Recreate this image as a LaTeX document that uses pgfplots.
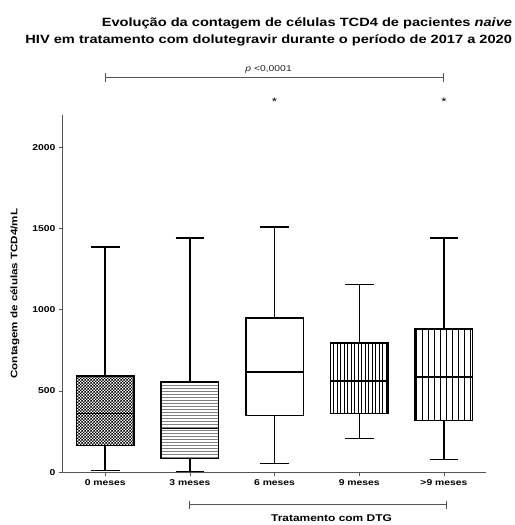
\documentclass[border=0pt]{standalone}
\usepackage{fontspec}
\setmainfont[FakeStretch=1.22]{Liberation Sans}
\usepackage{pgfplots}
\pgfplotsset{compat=1.18}
\usepgfplotslibrary{statistics}
\usetikzlibrary{patterns}
\pgfdeclarepatternformonly{mychecker}{\pgfqpoint{0pt}{0pt}}{\pgfqpoint{3pt}{3pt}}{\pgfqpoint{3pt}{3pt}}{%
  \pgfpathrectangle{\pgfpointorigin}{\pgfqpoint{1.5pt}{1.5pt}}%
  \pgfpathrectangle{\pgfqpoint{1.5pt}{1.5pt}}{\pgfqpoint{1.5pt}{1.5pt}}%
  \pgfusepath{fill}}
\pgfdeclarepatternformonly{myhlines}{\pgfqpoint{-1pt}{-1pt}}{\pgfqpoint{4pt}{4pt}}{\pgfqpoint{3pt}{3pt}}{%
  \pgfsetlinewidth{0.9pt}%
  \pgfpathmoveto{\pgfqpoint{-1pt}{1.5pt}}\pgfpathlineto{\pgfqpoint{4pt}{1.5pt}}\pgfusepath{stroke}}
\pgfdeclarepatternformonly{myvlinesdense}{\pgfqpoint{-1pt}{-1pt}}{\pgfqpoint{4.5pt}{4.5pt}}{\pgfqpoint{3.5pt}{3.5pt}}{%
  \pgfsetlinewidth{0.8pt}%
  \pgfpathmoveto{\pgfqpoint{1.75pt}{-1pt}}\pgfpathlineto{\pgfqpoint{1.75pt}{4.5pt}}\pgfusepath{stroke}}
\pgfdeclarepatternformonly{myvlinessparse}{\pgfqpoint{-1pt}{-1pt}}{\pgfqpoint{7pt}{7pt}}{\pgfqpoint{6pt}{6pt}}{%
  \pgfsetlinewidth{1.2pt}%
  \pgfpathmoveto{\pgfqpoint{3pt}{-1pt}}\pgfpathlineto{\pgfqpoint{3pt}{7pt}}\pgfusepath{stroke}}
\definecolor{axgray}{HTML}{555555}
\begin{document}
\begin{tikzpicture}
\begin{axis}[
  scale only axis, width=424pt, height=358pt,
  xmin=-0.5, xmax=4.5, ymin=0, ymax=2200,
  axis x line*=bottom, axis y line*=left,
  xtick={0,1,2,3,4}, xticklabels={0 meses,3 meses,6 meses,9 meses,>9 meses},
  ytick={0,500,1000,1500,2000},
  tick align=outside, major tick length=4pt,
  tick style={axgray, line width=0.8pt},
  axis line style={axgray, line width=1pt},
  tick label style={font=\bfseries\fontsize{8.5}{10}\selectfont},
  /pgf/number format/assume math mode=true,
  /pgf/number format/1000 sep={},
  clip=false,
  boxplot/draw direction=y,
]
\addplot[draw=black, line width=1.5pt, boxplot prepared={draw position=0, box extend=0.68, whisker extend=0.34, lower whisker=10, lower quartile=165, median=361, upper quartile=593, upper whisker=1385},
  boxplot/every box/.style={pattern=mychecker, pattern color=black}] coordinates {};
\addplot[draw=black, line width=1.5pt, boxplot prepared={draw position=1, box extend=0.68, whisker extend=0.34, lower whisker=6, lower quartile=86, median=269, upper quartile=557, upper whisker=1443},
  boxplot/every box/.style={pattern=myhlines, pattern color=gray}] coordinates {};
\addplot[draw=black, line width=1.5pt, boxplot prepared={draw position=2, box extend=0.68, whisker extend=0.34, lower whisker=55, lower quartile=349, median=618, upper quartile=948, upper whisker=1511}] coordinates {};
\addplot[draw=black, line width=1.5pt, boxplot prepared={draw position=3, box extend=0.68, whisker extend=0.34, lower whisker=208, lower quartile=361, median=563, upper quartile=795, upper whisker=1156},
  boxplot/every box/.style={pattern=myvlinesdense, pattern color=black}] coordinates {};
\addplot[draw=black, line width=1.5pt, boxplot prepared={draw position=4, box extend=0.68, whisker extend=0.34, lower whisker=80, lower quartile=318, median=587, upper quartile=881, upper whisker=1443},
  boxplot/every box/.style={pattern=myvlinessparse, pattern color=black}] coordinates {};
\end{axis}
% annotations (axis at origin; x: 84.8pt per category, first at 42.4pt; y: 358pt/2200)
\draw[axgray, line width=1pt] (42.4pt,395.1pt) -- (381.6pt,395.1pt);
\draw[axgray, line width=1pt] (42.4pt,390.6pt) -- (42.4pt,399.6pt);
\draw[axgray, line width=1pt] (381.6pt,390.6pt) -- (381.6pt,399.6pt);
\node[font=\fontsize{8.5}{10}\selectfont, text=black!85] at (206pt,403.5pt) {\textit{p} <0,0001};
\node[font=\fontsize{11}{12}\selectfont] at (212pt,371.2pt) {*};
\node[font=\fontsize{11}{12}\selectfont] at (381.6pt,371.2pt) {*};
\draw[axgray, line width=1pt] (127.2pt,-32.5pt) -- (384pt,-32.5pt);
\draw[axgray, line width=1pt] (127.2pt,-28.5pt) -- (127.2pt,-36.5pt);
\draw[axgray, line width=1pt] (384pt,-28.5pt) -- (384pt,-36.5pt);
\node[font=\bfseries\fontsize{9.8}{11}\selectfont] at (269pt,-46pt) {Tratamento com DTG};
\node[rotate=90, font=\bfseries\fontsize{9.5}{11}\selectfont] at (-48pt,179pt) {Contagem de células TCD4/mL};
\node[anchor=east, align=right, inner sep=0pt, font=\bfseries\fontsize{12}{17}\selectfont] at (450pt,441.5pt) {Evolução da contagem de células TCD4 de pacientes \textit{naive}\\HIV em tratamento com dolutegravir durante o período de 2017 a 2020};
\path[use as bounding box] (-63pt,-52pt) rectangle (452pt,473pt);
\end{tikzpicture}
\end{document}
